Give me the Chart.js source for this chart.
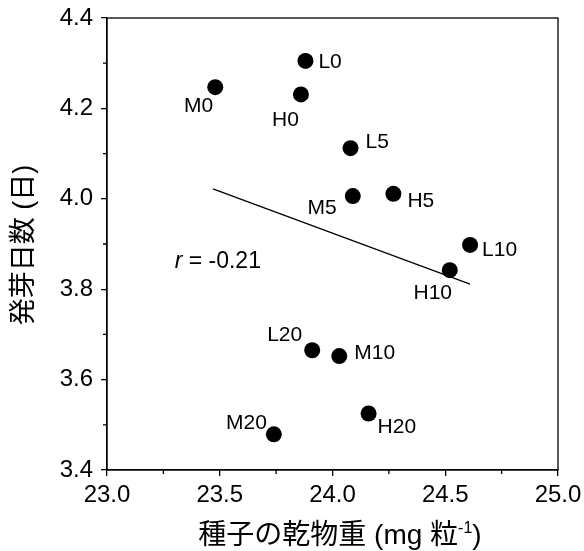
<!DOCTYPE html>
<html>
<head>
<meta charset="utf-8">
<script src="https://cdn.jsdelivr.net/npm/chart.js@4.4.0/dist/chart.umd.min.js"></script>
<style>
  html, body { margin: 0; padding: 0; background: #fff; }
  #wrap { width: 584px; height: 551px; }
</style>
</head>
<body>
<div id="wrap"><canvas id="chart" width="584" height="551"></canvas></div>
<script>
// data
const names = ['L0', 'H0', 'M0', 'L5', 'M5', 'H5', 'L10', 'H10', 'L20', 'M10', 'H20', 'M20'];
const seedWeight = [23.88, 23.86, 23.48, 24.08, 24.09, 24.27, 24.61, 24.52, 23.91, 24.03, 24.16, 23.74];
const germDays = [4.305, 4.231, 4.247, 4.112, 4.006, 4.011, 3.898, 3.842, 3.665, 3.652, 3.525, 3.479];
const fitX = [23.47, 24.61];
const fitY = [4.022, 3.811];
const xTicks = [23.0, 23.5, 24.0, 24.5, 25.0];
const yTicks = [3.4, 3.6, 3.8, 4.0, 4.2, 4.4];
const xMinor = [23.25, 23.75, 24.25, 24.75];
const yMinor = [3.5, 3.7, 3.9, 4.1, 4.3];
const rText = '-0.21';

// where each point label sits relative to its dot: [dx, dy, align]
const labelPos = [
    [13, 1, 'left'], [-2, 26, 'right'], [-2, 19, 'right'], [15, -6, 'left'],
    [-16, 12, 'right'], [14, 7, 'left'], [12, 5, 'left'], [-17, 23, 'center'],
    [-10, -15, 'right'], [15, -3, 'left'], [9, 14, 'left'], [-7, -11, 'right']
];

const FONT = '"Liberation Sans", Arial, "Noto Sans CJK JP", sans-serif';

const points = seedWeight.map((x, i) => ({ x: x, y: germDays[i] }));
const fitLine = fitX.map((x, i) => ({ x: x, y: fitY[i] }));

// frame, minor ticks, point labels, titles
const extras = {
    id: 'extras',
    afterDraw(chart) {
        const ctx = chart.ctx;
        const area = chart.chartArea;
        const xs = chart.scales.x;
        const ys = chart.scales.y;
        ctx.save();
        ctx.strokeStyle = '#000';
        ctx.lineWidth = 1.3;
        ctx.strokeRect(area.left, area.top, area.right - area.left, area.bottom - area.top);

        ctx.beginPath();
        xMinor.forEach(v => {
            const px = xs.getPixelForValue(v);
            ctx.moveTo(px, area.bottom);
            ctx.lineTo(px, area.bottom + 4);
        });
        yMinor.forEach(v => {
            const py = ys.getPixelForValue(v);
            ctx.moveTo(area.left, py);
            ctx.lineTo(area.left - 4, py);
        });
        ctx.stroke();

        // point labels
        const meta = chart.getDatasetMeta(1);
        ctx.fillStyle = '#000';
        ctx.font = '21px ' + FONT;
        ctx.textBaseline = 'middle';
        meta.data.forEach((el, i) => {
            const p = labelPos[i];
            ctx.textAlign = p[2];
            ctx.fillText(names[i], el.x + p[0], el.y + p[1]);
        });

        // r = -0.21
        ctx.textAlign = 'left';
        ctx.font = 'italic 23px ' + FONT;
        const rx = xs.getPixelForValue(23.3);
        const ry = ys.getPixelForValue(3.86);
        ctx.fillText('r', rx, ry);
        const rw = ctx.measureText('r').width;
        ctx.font = '23px ' + FONT;
        ctx.fillText(' = ' + rText, rx + rw, ry);

        // x title with superscript
        const main = '種子の乾物重 (mg 粒';
        ctx.font = '28px ' + FONT;
        const w1 = ctx.measureText(main).width;
        const w3 = ctx.measureText(')').width;
        ctx.font = '16px ' + FONT;
        const w2 = ctx.measureText('-1').width;
        const cx = 340;
        let sx = cx - (w1 + w2 + w3) / 2;
        const base = 544;
        ctx.textBaseline = 'alphabetic';
        ctx.font = '28px ' + FONT;
        ctx.fillText(main, sx, base);
        ctx.font = '16px ' + FONT;
        ctx.fillText('-1', sx + w1, base - 11);
        ctx.font = '28px ' + FONT;
        ctx.fillText(')', sx + w1 + w2, base);

        // y title
        ctx.translate(25, 245);
        ctx.rotate(-Math.PI / 2);
        ctx.textAlign = 'center';
        ctx.textBaseline = 'middle';
        ctx.font = '27px ' + FONT;
        ctx.fillText('発芽日数 (日)', 0, 0);
        ctx.restore();
    }
};

new Chart(document.getElementById('chart'), {
    type: 'scatter',
    data: {
        datasets: [
            {
                type: 'line',
                data: fitLine,
                borderColor: '#000',
                borderWidth: 1.3,
                pointRadius: 0,
                fill: false
            },
            {
                data: points,
                backgroundColor: '#000',
                borderWidth: 0,
                pointRadius: 8,
                pointHoverRadius: 8
            }
        ]
    },
    options: {
        responsive: false,
        animation: false,
        events: [],
        layout: { padding: { top: 18, right: 26, left: 0, bottom: 0 } },
        plugins: { legend: { display: false }, tooltip: { enabled: false } },
        scales: {
            x: {
                type: 'linear',
                min: 23.0,
                max: 25.0,
                afterFit(scale) {
                    scale.height = 81;
                    scale.paddingLeft = 0;
                    scale.paddingRight = 0;
                },
                afterBuildTicks(scale) { scale.ticks = xTicks.map(v => ({ value: v })); },
                grid: { drawOnChartArea: false, color: '#000', lineWidth: 1.3, tickLength: 6 },
                border: { color: '#000', width: 1.3 },
                ticks: {
                    color: '#000',
                    font: { family: FONT, size: 24 },
                    padding: 5,
                    maxRotation: 0,
                    callback: v => v.toFixed(1)
                }
            },
            y: {
                min: 3.4,
                max: 4.4,
                afterFit(scale) {
                    scale.width = 107;
                    scale.paddingTop = 0;
                    scale.paddingBottom = 0;
                },
                afterBuildTicks(scale) { scale.ticks = yTicks.map(v => ({ value: v })); },
                grid: { drawOnChartArea: false, color: '#000', lineWidth: 1.3, tickLength: 6 },
                border: { color: '#000', width: 1.3 },
                ticks: {
                    color: '#000',
                    font: { family: FONT, size: 24 },
                    padding: 8,
                    callback: v => v.toFixed(1)
                }
            }
        }
    },
    plugins: [extras]
});
</script>
</body>
</html>
